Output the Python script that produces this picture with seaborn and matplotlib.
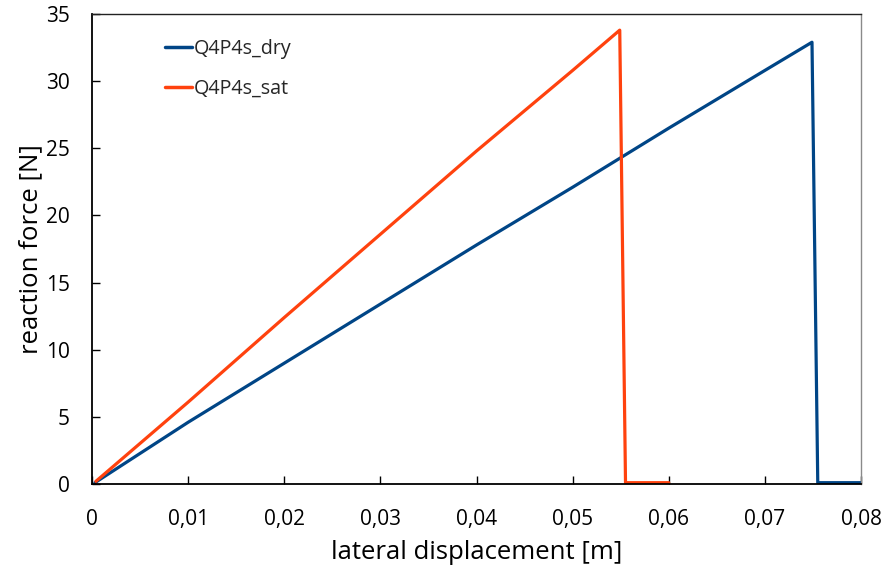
import matplotlib
matplotlib.use("Agg")
import matplotlib.pyplot as plt
import seaborn as sns
import pandas as pd

# Lateral displacement [m] and reaction force [N] for each test
dry_disp = [0.0003, 0.010, 0.020, 0.030, 0.040, 0.050, 0.060, 0.070, 0.0749, 0.0755, 0.080]
dry_force = [0.1, 4.6, 9.0, 13.4, 17.8, 22.1, 26.5, 30.8, 32.9, 0.1, 0.1]

sat_disp = [0.0004, 0.010, 0.020, 0.030, 0.040, 0.050, 0.0549, 0.0555, 0.060]
sat_force = [0.2, 6.1, 12.4, 18.6, 24.8, 30.8, 33.8, 0.1, 0.1]

series_names = ["Q4P4s_dry", "Q4P4s_sat"]
series_colors = ["#004586", "#FF420E"]

x_ticks = [0, 0.01, 0.02, 0.03, 0.04, 0.05, 0.06, 0.07, 0.08]
x_tick_labels = ["0", "0,01", "0,02", "0,03", "0,04", "0,05", "0,06", "0,07", "0,08"]
y_ticks = [0, 5, 10, 15, 20, 25, 30, 35]

df = pd.concat([
    pd.DataFrame({"disp": dry_disp, "force": dry_force, "test": series_names[0]}),
    pd.DataFrame({"disp": sat_disp, "force": sat_force, "test": series_names[1]}),
], ignore_index=True)

sns.set_theme(style="white")
plt.rcParams["font.family"] = ["Open Sans", "DejaVu Sans"]

fig = plt.figure(figsize=(8.84, 5.72), dpi=100)
ax = fig.add_axes([0.1041, 0.1538, 0.8699, 0.8217])

sns.lineplot(data=df, x="disp", y="force", hue="test", palette=series_colors,
             hue_order=series_names, estimator=None, sort=False,
             linewidth=2.3, ax=ax)

ax.set_xlim(0, 0.08)
ax.set_ylim(0, 35)
ax.set_xticks(x_ticks)
ax.set_xticklabels(x_tick_labels)
ax.set_yticks(y_ticks)

ax.tick_params(axis="x", direction="in", length=6, width=1, color="black",
               labelsize=15, pad=18, bottom=True, top=False, labelcolor="black")
ax.tick_params(axis="y", direction="in", length=6, width=1, color="black",
               labelsize=15, pad=16, left=True, right=False, labelcolor="black")

for side in ["left", "bottom"]:
    ax.spines[side].set_color("black")
    ax.spines[side].set_linewidth(1.3)
ax.spines["top"].set_color("#222222")
ax.spines["top"].set_linewidth(1.0)
ax.spines["right"].set_color("#8a8a8a")
ax.spines["right"].set_linewidth(1.0)

ax.set_xlabel("lateral displacement [m]", fontsize=18.5, color="black", labelpad=7)
ax.set_ylabel("reaction force [N]", fontsize=18.5, color="black", labelpad=2)

leg = ax.legend(loc="upper left", bbox_to_anchor=(0.085, 0.963), frameon=False,
                fontsize=14.2, handlelength=1.35, handletextpad=0.1,
                labelspacing=0.98, borderaxespad=0)
for line in leg.get_lines():
    line.set_linewidth(2.5)

fig.savefig("out.png", dpi=100)
